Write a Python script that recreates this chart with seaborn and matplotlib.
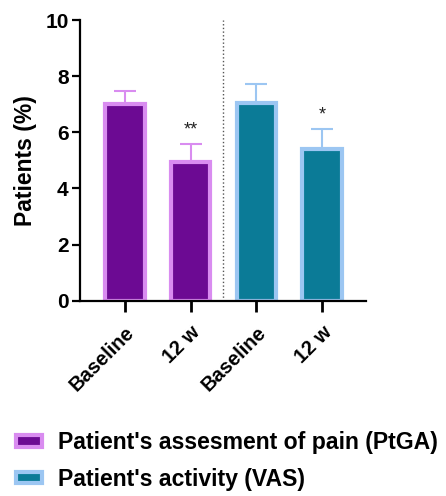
import pandas as pd
import matplotlib.pyplot as plt
import matplotlib.transforms as mtransforms
import seaborn as sns
from matplotlib.patches import Patch

# data
timepoints = ["Baseline", "12 w", "Baseline", "12 w"]
groups = ["Patient's assesment of pain (PtGA)", "Patient's assesment of pain (PtGA)",
          "Patient's activity (VAS)", "Patient's activity (VAS)"]
means = [7.0, 4.95, 7.05, 5.4]
sd_upper = [0.47, 0.62, 0.68, 0.72]
stars = ["", "**", "", "*"]

fillColors = {"Patient's assesment of pain (PtGA)": "#6c0a93",
              "Patient's activity (VAS)": "#0b7b97"}
edgeColors = {"Patient's assesment of pain (PtGA)": "#d98cf0",
              "Patient's activity (VAS)": "#9cc6f2"}

sns.set_style("ticks")
plt.rcParams['font.family'] = ['Liberation Sans', 'DejaVu Sans']
plt.rcParams['font.weight'] = 'bold'
for k in ['text.color', 'axes.labelcolor', 'xtick.color', 'ytick.color', 'axes.edgecolor']:
    plt.rcParams[k] = 'black'

df = pd.DataFrame({
    'key': [f"{t}_{i}" for i, t in enumerate(timepoints)],
    'Timepoint': timepoints,
    'Group': groups,
    'Mean': means,
})

fig = plt.figure(figsize=(4.46, 4.96), dpi=100)
ax = fig.add_axes([0.179, 0.394, 0.642, 0.565])

sns.barplot(data=df, x='key', y='Mean', hue='Group', palette=fillColors, saturation=1,
            dodge=False, width=0.6, errorbar=None, legend=False, ax=ax)

for bar in ax.patches:
    if bar.get_height() == 0:
        continue
    xc = bar.get_x() + bar.get_width() / 2
    idx = int(round(xc))
    bar.set_edgecolor(edgeColors[groups[idx]])
    bar.set_linewidth(3)

for i, m in enumerate(means):
    ec = edgeColors[groups[i]]
    ax.errorbar(i, m, yerr=[[0], [sd_upper[i]]], fmt='none', ecolor=ec,
                elinewidth=1.5, capsize=8, capthick=1.5, zorder=1)
    if stars[i]:
        ax.text(i, m + sd_upper[i] + 0.2, stars[i], ha='center', va='bottom',
                fontsize=13, fontweight='normal', color='#222222')

ax.axvline(1.5, ymin=0, ymax=1, color='#555555', linestyle=':', linewidth=1)

ax.set_xlim(-0.685, 3.67)
ax.set_ylim(0, 10)
ax.set_yticks([0, 2, 4, 6, 8, 10])
ax.set_xticks(range(len(timepoints)))
ax.set_xticklabels(timepoints, rotation=45, ha='right', rotation_mode='anchor',
                   fontsize=14.5, fontweight='bold')
shift = mtransforms.ScaledTranslation(-6 / 100, 0, fig.dpi_scale_trans)
for lab in ax.get_xticklabels():
    lab.set_transform(lab.get_transform() + shift)
ax.tick_params(axis='y', labelsize=15, width=1.6, length=6, pad=2)
ax.tick_params(axis='x', width=2, length=8, pad=8)
for lab in ax.get_yticklabels():
    lab.set_fontweight('bold')
ax.set_xlabel('')
ax.set_ylabel('Patients (%)', fontsize=16.5, fontweight='bold', labelpad=6)
for s in ['left', 'bottom']:
    ax.spines[s].set_linewidth(1.6)
sns.despine(ax=ax)

legendHandles = [Patch(facecolor=fillColors[g], edgecolor=edgeColors[g], linewidth=3)
                 for g in dict.fromkeys(groups)]
fig.legend(legendHandles, list(dict.fromkeys(groups)), loc='lower left',
           bbox_to_anchor=(0.0, -0.022), frameon=False, prop={'size': 16.6, 'weight': 'bold'},
           handlelength=1.1, handleheight=0.4, labelspacing=0.6, handletextpad=0.72,
           borderaxespad=0.3)

plt.savefig('out.png', dpi=100)
plt.close()
